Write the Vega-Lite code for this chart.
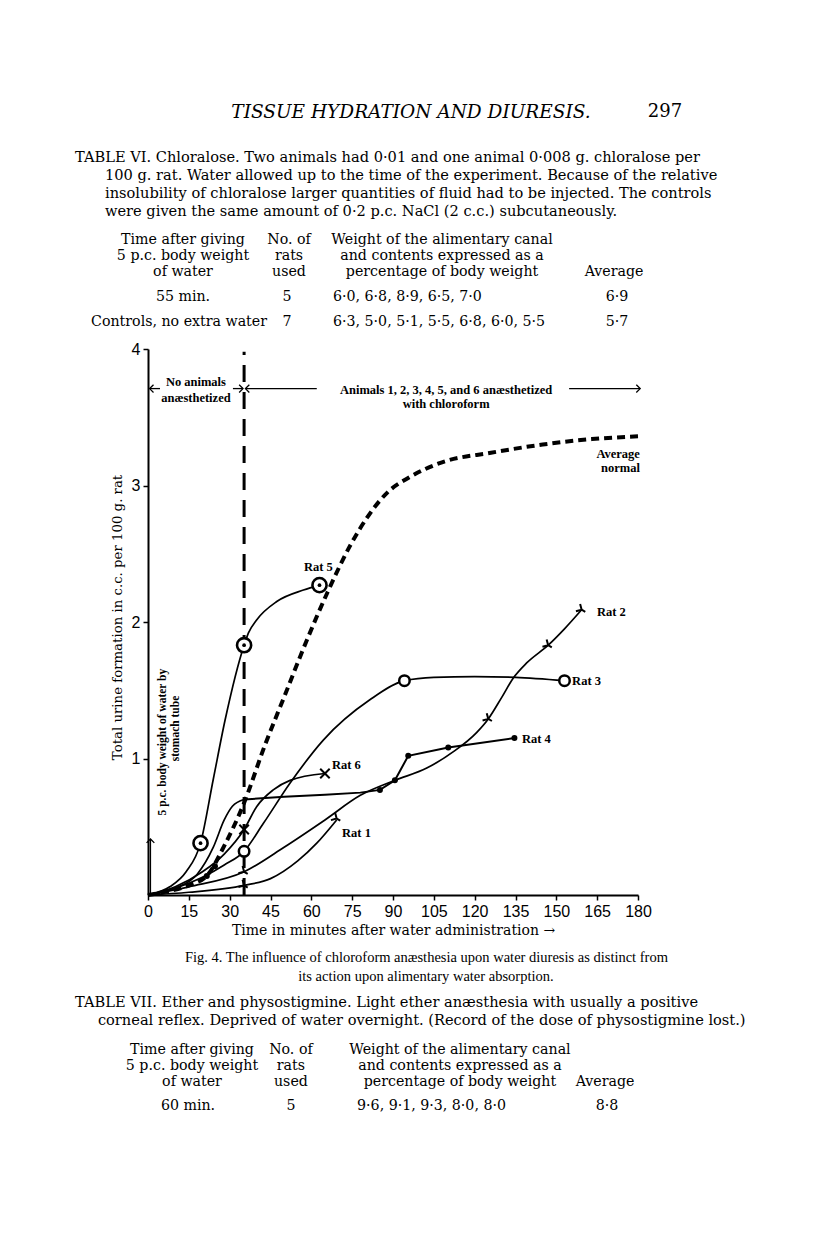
{
  "$schema": "https://vega.github.io/schema/vega-lite/v6.json",
  "width": 490,
  "height": 546,
  "autosize": {"type": "none"},
  "padding": {"left": 148, "top": 349, "right": 178, "bottom": 363},
  "background": "white",
  "config": {"view": {"stroke": null}},
  "datasets": {
    "curves": [
      {"series": "Average", "x": 0, "y": 0}, {"series": "Average", "x": 8, "y": 0.03}, {"series": "Average", "x": 15, "y": 0.07}, {"series": "Average", "x": 22, "y": 0.15}, {"series": "Average", "x": 28, "y": 0.36}, {"series": "Average", "x": 35, "y": 0.66}, {"series": "Average", "x": 43, "y": 1.1}, {"series": "Average", "x": 50, "y": 1.45}, {"series": "Average", "x": 58, "y": 1.85}, {"series": "Average", "x": 66, "y": 2.22}, {"series": "Average", "x": 74, "y": 2.55}, {"series": "Average", "x": 81, "y": 2.78}, {"series": "Average", "x": 88, "y": 2.95}, {"series": "Average", "x": 96, "y": 3.06}, {"series": "Average", "x": 108, "y": 3.17}, {"series": "Average", "x": 126, "y": 3.24}, {"series": "Average", "x": 145, "y": 3.3}, {"series": "Average", "x": 163, "y": 3.34}, {"series": "Average", "x": 180, "y": 3.36},
      {"series": "Rat 5", "x": 0, "y": 0}, {"series": "Rat 5", "x": 8, "y": 0.06}, {"series": "Rat 5", "x": 14, "y": 0.17}, {"series": "Rat 5", "x": 19.3, "y": 0.38}, {"series": "Rat 5", "x": 24, "y": 0.85}, {"series": "Rat 5", "x": 28.3, "y": 1.28}, {"series": "Rat 5", "x": 35.3, "y": 1.83}, {"series": "Rat 5", "x": 36.9, "y": 1.92}, {"series": "Rat 5", "x": 39.9, "y": 2.015}, {"series": "Rat 5", "x": 47.3, "y": 2.15}, {"series": "Rat 5", "x": 57.1, "y": 2.234}, {"series": "Rat 5", "x": 63, "y": 2.27},
      {"series": "Rat 6", "x": 0, "y": 0}, {"series": "Rat 6", "x": 10, "y": 0.06}, {"series": "Rat 6", "x": 20, "y": 0.17}, {"series": "Rat 6", "x": 28, "y": 0.3}, {"series": "Rat 6", "x": 35.3, "y": 0.48}, {"series": "Rat 6", "x": 39.9, "y": 0.647}, {"series": "Rat 6", "x": 46, "y": 0.77}, {"series": "Rat 6", "x": 52.2, "y": 0.84}, {"series": "Rat 6", "x": 65, "y": 0.89},
      {"series": "Rat 3", "x": 0, "y": 0}, {"series": "Rat 3", "x": 10, "y": 0.05}, {"series": "Rat 3", "x": 20, "y": 0.13}, {"series": "Rat 3", "x": 28, "y": 0.22}, {"series": "Rat 3", "x": 35.3, "y": 0.32}, {"series": "Rat 3", "x": 42.4, "y": 0.525}, {"series": "Rat 3", "x": 52.2, "y": 0.82}, {"series": "Rat 3", "x": 64.4, "y": 1.135}, {"series": "Rat 3", "x": 81.5, "y": 1.43}, {"series": "Rat 3", "x": 94.2, "y": 1.57}, {"series": "Rat 3", "x": 105, "y": 1.595}, {"series": "Rat 3", "x": 120, "y": 1.6}, {"series": "Rat 3", "x": 135, "y": 1.595}, {"series": "Rat 3", "x": 153, "y": 1.57},
      {"series": "Rat 4a", "x": 0, "y": 0}, {"series": "Rat 4a", "x": 10, "y": 0.05}, {"series": "Rat 4a", "x": 18, "y": 0.15}, {"series": "Rat 4a", "x": 24, "y": 0.35}, {"series": "Rat 4a", "x": 28, "y": 0.55}, {"series": "Rat 4a", "x": 31, "y": 0.65}, {"series": "Rat 4a", "x": 35.3, "y": 0.7},
      {"series": "Rat 4", "x": 35.3, "y": 0.7}, {"series": "Rat 4", "x": 50, "y": 0.72}, {"series": "Rat 4", "x": 65, "y": 0.735}, {"series": "Rat 4", "x": 78, "y": 0.75}, {"series": "Rat 4", "x": 85.2, "y": 0.77}, {"series": "Rat 4", "x": 90.7, "y": 0.84}, {"series": "Rat 4", "x": 95.6, "y": 1.02}, {"series": "Rat 4", "x": 110.3, "y": 1.08}, {"series": "Rat 4", "x": 134.6, "y": 1.15},
      {"series": "Rat 2", "x": 0, "y": 0}, {"series": "Rat 2", "x": 15, "y": 0.06}, {"series": "Rat 2", "x": 35.3, "y": 0.17}, {"series": "Rat 2", "x": 50, "y": 0.35}, {"series": "Rat 2", "x": 65, "y": 0.55}, {"series": "Rat 2", "x": 78, "y": 0.73}, {"series": "Rat 2", "x": 90.7, "y": 0.84}, {"series": "Rat 2", "x": 102.4, "y": 0.93}, {"series": "Rat 2", "x": 112.2, "y": 1.05}, {"series": "Rat 2", "x": 120.7, "y": 1.19}, {"series": "Rat 2", "x": 125, "y": 1.29}, {"series": "Rat 2", "x": 130, "y": 1.45}, {"series": "Rat 2", "x": 134.2, "y": 1.59}, {"series": "Rat 2", "x": 139.1, "y": 1.7}, {"series": "Rat 2", "x": 147, "y": 1.83}, {"series": "Rat 2", "x": 153, "y": 1.95}, {"series": "Rat 2", "x": 159.3, "y": 2.09},
      {"series": "Rat 1", "x": 0, "y": 0}, {"series": "Rat 1", "x": 15, "y": 0.02}, {"series": "Rat 1", "x": 35.3, "y": 0.07}, {"series": "Rat 1", "x": 45, "y": 0.12}, {"series": "Rat 1", "x": 55, "y": 0.25}, {"series": "Rat 1", "x": 62, "y": 0.38}, {"series": "Rat 1", "x": 69.3, "y": 0.55}
    ],
    "points": [
      {"series": "Rat 5", "x": 19.3, "y": 0.38}, {"series": "Rat 5", "x": 35.3, "y": 1.83}, {"series": "Rat 5", "x": 63, "y": 2.27},
      {"series": "Rat 3", "x": 35.3, "y": 0.32}, {"series": "Rat 3", "x": 94.2, "y": 1.57}, {"series": "Rat 3", "x": 153, "y": 1.57},
      {"series": "Rat 4", "x": 85.2, "y": 0.77}, {"series": "Rat 4", "x": 90.7, "y": 0.84}, {"series": "Rat 4", "x": 95.6, "y": 1.02}, {"series": "Rat 4", "x": 110.3, "y": 1.08}, {"series": "Rat 4", "x": 134.6, "y": 1.15}, {"series": "Rat 4", "x": 21.6, "y": 0.14}, {"series": "Rat 4", "x": 24.6, "y": 0.21},
      {"series": "Rat 6", "x": 35.3, "y": 0.48}, {"series": "Rat 6", "x": 65, "y": 0.89},
      {"series": "Rat 2", "x": 35.3, "y": 0.17}, {"series": "Rat 2", "x": 125, "y": 1.29}, {"series": "Rat 2", "x": 147, "y": 1.83}, {"series": "Rat 2", "x": 159.3, "y": 2.09},
      {"series": "Rat 1", "x": 35.3, "y": 0.07}, {"series": "Rat 1", "x": 69.3, "y": 0.56}
    ],
    "arrows": [
      {"x": 0.6, "x2": 4.4, "y": 3.71, "y2": 3.71},
      {"x": 31.2, "x2": 34.9, "y": 3.71, "y2": 3.71},
      {"x": 35.8, "x2": 62, "y": 3.71, "y2": 3.71},
      {"x": 154.7, "x2": 180.8, "y": 3.71, "y2": 3.71},
      {"x": 0.9, "x2": 0.9, "y": 0, "y2": 0.41}
    ],
    "heads": [
      {"x": 0.6, "y": 3.71, "dir": "left"},
      {"x": 34.9, "y": 3.71, "dir": "right"},
      {"x": 35.8, "y": 3.71, "dir": "left"},
      {"x": 180.8, "y": 3.71, "dir": "right"},
      {"x": 0.9, "y": 0.41, "dir": "up"}
    ],
    "texts": [
      {"role": "head", "x": 96.6, "y": 5.736, "text": "TISSUE HYDRATION AND DIURESIS."},
      {"role": "page", "x": 196.2, "y": 5.736, "text": "297"},
      {"role": "body", "x": -26.8, "y": 5.399, "text": "TABLE VI. Chloralose. Two animals had 0·01 and one animal 0·008 g. chloralose per"},
      {"role": "body", "x": -15.8, "y": 5.267, "text": "100 g. rat. Water allowed up to the time of the experiment. Because of the relative"},
      {"role": "body", "x": -15.8, "y": 5.136, "text": "insolubility of chloralose larger quantities of fluid had to be injected. The controls"},
      {"role": "body", "x": -15.8, "y": 5.004, "text": "were given the same amount of 0·2 p.c. NaCl (2 c.c.) subcutaneously."},
      {"role": "tc", "x": 12.86, "y": 4.799, "text": "Time after giving"},
      {"role": "tc", "x": 12.86, "y": 4.681, "text": "5 p.c. body weight"},
      {"role": "tc", "x": 12.86, "y": 4.564, "text": "of water"},
      {"role": "tc", "x": 51.8, "y": 4.799, "text": "No. of"},
      {"role": "tc", "x": 51.8, "y": 4.681, "text": "rats"},
      {"role": "tc", "x": 51.8, "y": 4.564, "text": "used"},
      {"role": "tc", "x": 108, "y": 4.799, "text": "Weight of the alimentary canal"},
      {"role": "tc", "x": 108, "y": 4.681, "text": "and contents expressed as a"},
      {"role": "tc", "x": 108, "y": 4.564, "text": "percentage of body weight"},
      {"role": "tc", "x": 171.2, "y": 4.564, "text": "Average"},
      {"role": "tc", "x": 12.86, "y": 4.381, "text": "55 min."},
      {"role": "tc", "x": 51.06, "y": 4.381, "text": "5"},
      {"role": "tl", "x": 67.96, "y": 4.381, "text": "6·0, 6·8, 8·9, 6·5, 7·0"},
      {"role": "tc", "x": 172.3, "y": 4.381, "text": "6·9"},
      {"role": "tc", "x": 11.4, "y": 4.198, "text": "Controls, no extra water"},
      {"role": "tc", "x": 51.06, "y": 4.198, "text": "7"},
      {"role": "tl", "x": 67.96, "y": 4.198, "text": "6·3, 5·0, 5·1, 5·5, 6·8, 6·0, 5·5"},
      {"role": "tc", "x": 172.3, "y": 4.198, "text": "5·7"},
      {"role": "cap", "x": 102.3, "y": -0.4615, "text": "Fig. 4. The influence of chloroform anæsthesia upon water diuresis as distinct from"},
      {"role": "cap", "x": 102.1, "y": -0.6007, "text": "its action upon alimentary water absorption."},
      {"role": "body", "x": -26.8, "y": -0.791, "text": "TABLE VII. Ether and physostigmine. Light ether anæsthesia with usually a positive"},
      {"role": "body", "x": -18.4, "y": -0.923, "text": "corneal reflex. Deprived of water overnight. (Record of the dose of physostigmine lost.)"},
      {"role": "tc", "x": 16.16, "y": -1.1355, "text": "Time after giving"},
      {"role": "tc", "x": 16.16, "y": -1.2527, "text": "5 p.c. body weight"},
      {"role": "tc", "x": 16.16, "y": -1.37, "text": "of water"},
      {"role": "tc", "x": 52.5, "y": -1.1355, "text": "No. of"},
      {"role": "tc", "x": 52.5, "y": -1.2527, "text": "rats"},
      {"role": "tc", "x": 52.5, "y": -1.37, "text": "used"},
      {"role": "tc", "x": 114.6, "y": -1.1355, "text": "Weight of the alimentary canal"},
      {"role": "tc", "x": 114.6, "y": -1.2527, "text": "and contents expressed as a"},
      {"role": "tc", "x": 114.6, "y": -1.37, "text": "percentage of body weight"},
      {"role": "tc", "x": 167.9, "y": -1.37, "text": "Average"},
      {"role": "tc", "x": 14.7, "y": -1.546, "text": "60 min."},
      {"role": "tc", "x": 52.5, "y": -1.546, "text": "5"},
      {"role": "tl", "x": 76.8, "y": -1.546, "text": "9·6, 9·1, 9·3, 8·0, 8·0"},
      {"role": "tc", "x": 168.6, "y": -1.546, "text": "8·8"},
      {"role": "ann", "x": 17.6, "y": 3.76, "text": "No animals"},
      {"role": "ann", "x": 17.6, "y": 3.64, "text": "anæsthetized"},
      {"role": "ann", "x": 109.5, "y": 3.7, "text": "Animals 1, 2, 3, 4, 5, and 6 anæsthetized"},
      {"role": "ann", "x": 109.5, "y": 3.597, "text": "with chloroform"},
      {"role": "annr", "x": 180.7, "y": 3.23, "text": "Average"},
      {"role": "annr", "x": 180.7, "y": 3.13, "text": "normal"},
      {"role": "rat", "x": 164.9, "y": 2.07, "text": "Rat 2"},
      {"role": "rat", "x": 155.8, "y": 1.566, "text": "Rat 3"},
      {"role": "rat", "x": 137.4, "y": 1.143, "text": "Rat 4"},
      {"role": "rat", "x": 67.6, "y": 0.952, "text": "Rat 6"},
      {"role": "rat", "x": 71.3, "y": 0.454, "text": "Rat 1"},
      {"role": "rat", "x": 57.3, "y": 2.405, "text": "Rat 5"},
      {"role": "vert", "x": 5.5, "y": 1.12, "text": "5 p.c. body weight of water by"},
      {"role": "vert", "x": 10.3, "y": 1.22, "text": "stomach tube"}
    ]
  },
  "encoding": {
    "x": {"field": "x", "type": "quantitative", "scale": {"domain": [0, 180], "nice": false, "zero": false},
      "axis": {"values": [0, 15, 30, 45, 60, 75, 90, 105, 120, 135, 150, 165, 180], "title": "Time in minutes after water administration →", "titleFont": "DejaVu Serif", "titleFontSize": 14, "titleFontWeight": "normal", "titleColor": "black", "titlePadding": 4, "labelFont": "Liberation Sans", "labelFontSize": 16, "labelColor": "black", "labelPadding": 3, "tickColor": "black", "tickSize": 5, "tickWidth": 1.5, "domainColor": "black", "domainWidth": 2, "grid": false, "labelFlush": false, "labelOverlap": false}},
    "y": {"field": "y", "type": "quantitative", "scale": {"domain": [0, 4], "nice": false, "zero": false},
      "axis": {"values": [1, 2, 3, 4], "title": "Total urine formation in c.c. per 100 g. rat", "titleFont": "DejaVu Serif", "titleFontSize": 13.3, "titleFontWeight": "normal", "titleColor": "black", "titlePadding": 7, "titleY": 268, "labelFont": "Liberation Sans", "labelFontSize": 16, "labelColor": "black", "labelPadding": 3, "tickColor": "black", "tickSize": 5, "tickWidth": 1.5, "domainColor": "black", "domainWidth": 2, "grid": false, "labelFlush": false}}
  },
  "layer": [
    {"data": {"values": [{"x": 35.3, "y": 0, "y2": 3.98}]}, "mark": {"type": "rule", "strokeWidth": 3, "strokeDash": [17, 10], "color": "black"}, "encoding": {"y2": {"field": "y2"}}},
    {"data": {"name": "curves"}, "transform": [{"filter": "datum.series == 'Average'"}], "mark": {"type": "line", "interpolate": "monotone", "strokeWidth": 4, "strokeDash": [8, 5], "color": "black"}},
    {"data": {"name": "curves"}, "transform": [{"filter": "datum.series != 'Average' && datum.series != 'Rat 4'"}], "mark": {"type": "line", "interpolate": "monotone", "strokeWidth": 1.7, "color": "black"}, "encoding": {"detail": {"field": "series"}}},
    {"data": {"name": "curves"}, "transform": [{"filter": "datum.series == 'Rat 4'"}], "mark": {"type": "line", "interpolate": "linear", "strokeWidth": 2, "color": "black"}},
    {"data": {"name": "points"}, "transform": [{"filter": "datum.series == 'Rat 5'"}], "mark": {"type": "point", "shape": "circle", "filled": false, "size": 200, "strokeWidth": 2.6, "color": "black", "fill": "white", "fillOpacity": 1}},
    {"data": {"name": "points"}, "transform": [{"filter": "datum.series == 'Rat 5'"}], "mark": {"type": "point", "shape": "circle", "filled": true, "size": 14, "color": "black", "opacity": 1}},
    {"data": {"name": "points"}, "transform": [{"filter": "datum.series == 'Rat 3'"}], "mark": {"type": "point", "shape": "circle", "filled": false, "size": 110, "strokeWidth": 2.5, "color": "black", "fill": "white", "fillOpacity": 1}},
    {"data": {"name": "points"}, "transform": [{"filter": "datum.series == 'Rat 4'"}], "mark": {"type": "point", "shape": "circle", "filled": true, "size": 36, "color": "black", "opacity": 1}},
    {"data": {"name": "points"}, "transform": [{"filter": "datum.series == 'Rat 6'"}], "mark": {"type": "point", "shape": "M-1,-1L1,1M-1,1L1,-1", "filled": false, "size": 90, "strokeWidth": 2, "color": "black", "opacity": 1}},
    {"data": {"name": "points"}, "transform": [{"filter": "datum.series == 'Rat 2' || datum.series == 'Rat 1'"}], "mark": {"type": "point", "shape": "M-1,-1L0,0L1,-1M0,0L0,1", "angle": 300, "filled": false, "size": 70, "strokeWidth": 2, "color": "black", "opacity": 1}},
    {"data": {"name": "arrows"}, "mark": {"type": "rule", "strokeWidth": 1.3, "color": "black"}, "encoding": {"x2": {"field": "x2"}, "y2": {"field": "y2"}}},
    {"data": {"name": "heads"}, "mark": {"type": "point", "filled": false, "size": 60, "strokeWidth": 1.3, "color": "black", "opacity": 1}, "encoding": {"shape": {"field": "dir", "type": "nominal", "legend": null, "scale": {"domain": ["left", "right", "up"], "range": ["M1,-1L0,0L1,1", "M-1,-1L0,0L-1,1", "M-1,1L0,0L1,1"]}}}},
    {"data": {"name": "texts"}, "transform": [{"filter": "datum.role == 'head'"}], "mark": {"type": "text", "font": "DejaVu Serif", "fontSize": 18.5, "fontStyle": "italic", "align": "center", "baseline": "middle", "color": "black"}, "encoding": {"text": {"field": "text"}}},
    {"data": {"name": "texts"}, "transform": [{"filter": "datum.role == 'page'"}], "mark": {"type": "text", "font": "DejaVu Serif", "fontSize": 18, "align": "right", "baseline": "middle", "color": "black"}, "encoding": {"text": {"field": "text"}}},
    {"data": {"name": "texts"}, "transform": [{"filter": "datum.role == 'body'"}], "mark": {"type": "text", "font": "DejaVu Serif", "fontSize": 14.6, "align": "left", "baseline": "middle", "color": "black"}, "encoding": {"text": {"field": "text"}}},
    {"data": {"name": "texts"}, "transform": [{"filter": "datum.role == 'tc'"}], "mark": {"type": "text", "font": "DejaVu Serif", "fontSize": 14.2, "align": "center", "baseline": "middle", "color": "black"}, "encoding": {"text": {"field": "text"}}},
    {"data": {"name": "texts"}, "transform": [{"filter": "datum.role == 'tl'"}], "mark": {"type": "text", "font": "DejaVu Serif", "fontSize": 14.2, "align": "left", "baseline": "middle", "color": "black"}, "encoding": {"text": {"field": "text"}}},
    {"data": {"name": "texts"}, "transform": [{"filter": "datum.role == 'cap'"}], "mark": {"type": "text", "font": "Liberation Serif", "fontSize": 14.5, "align": "center", "baseline": "middle", "color": "black"}, "encoding": {"text": {"field": "text"}}},
    {"data": {"name": "texts"}, "transform": [{"filter": "datum.role == 'ann'"}], "mark": {"type": "text", "font": "Liberation Serif", "fontSize": 12.5, "fontWeight": "bold", "align": "center", "baseline": "middle", "color": "black"}, "encoding": {"text": {"field": "text"}}},
    {"data": {"name": "texts"}, "transform": [{"filter": "datum.role == 'annr'"}], "mark": {"type": "text", "font": "Liberation Serif", "fontSize": 12.5, "fontWeight": "bold", "align": "right", "baseline": "middle", "color": "black"}, "encoding": {"text": {"field": "text"}}},
    {"data": {"name": "texts"}, "transform": [{"filter": "datum.role == 'rat'"}], "mark": {"type": "text", "font": "Liberation Serif", "fontSize": 12.5, "fontWeight": "bold", "align": "left", "baseline": "middle", "color": "black"}, "encoding": {"text": {"field": "text"}}},
    {"data": {"name": "texts"}, "transform": [{"filter": "datum.role == 'vert'"}], "mark": {"type": "text", "font": "Liberation Serif", "fontSize": 11.5, "fontWeight": "bold", "angle": 270, "align": "center", "baseline": "middle", "color": "black"}, "encoding": {"text": {"field": "text"}}}
  ]
}
